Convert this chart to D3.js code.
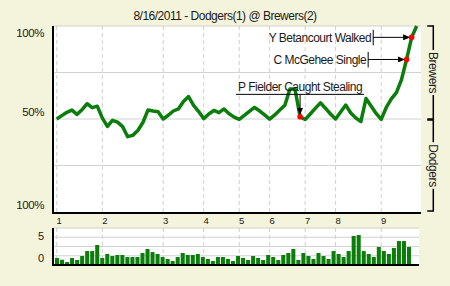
<!DOCTYPE html>
<html>
<head>
<meta charset="utf-8">
<script src="https://cdn.jsdelivr.net/npm/d3@7"></script>
<style>
  body { margin: 0; background: #f4f3dc; }
  svg { display: block; }
  text { font-family: "Liberation Sans", Arial, sans-serif; fill: #1a1a1a; }
</style>
</head>
<body>
<script>
// win probability for the home team (Brewers), one value per play
var winPct = [50, 51.8, 53.6, 54.8, 52.5, 55, 58.2, 56.1, 56.9, 50.5,
  46, 49.3, 48.3, 45.9, 40.5, 41.2, 43.8, 48.1, 54.8, 54.3,
  53.9, 50, 52, 54.3, 55.4, 59.4, 62.1, 57.3, 54, 50.2,
  52.7, 54.6, 53.4, 55.4, 52.8, 51, 49.8, 51.9, 54.1, 56.2,
  54.4, 52.2, 49.9, 52.2, 54.8, 57.4, 66.1, 66.1, 51.2, 49.7,
  52.7, 55.7, 58.7, 55.8, 52.7, 50, 53.8, 57.5, 53.2, 50.5,
  48.7, 61, 57, 53, 49.8, 56.2, 60.8, 64.2, 71.2, 82, 93.9, 100];

// leverage of each play (bottom bars)
var leverage = [0.76, 0.57, 0.32, 0.76, 0.54, 0.97, 1.51, 1.51, 2.16, 0.76,
  1.19, 0.97, 1.08, 1.08, 0.86, 0.86, 0.86, 1.3, 1.73, 1.4,
  1.19, 0.86, 0.65, 0.43, 0.86, 1.3, 1.08, 1.08, 1.19, 0.86,
  0.65, 0.43, 0.86, 0.86, 0.65, 0.43, 0.97, 0.76, 0.54, 0.97,
  0.76, 0.54, 1.08, 0.86, 0.54, 1.08, 1.3, 1.73, 0.54, 1.3,
  0.97, 0.65, 1.3, 0.97, 0.65, 1.51, 1.19, 0.86, 1.51, 3.14,
  3.24, 1.51, 1.19, 0.86, 1.95, 1.51, 1.19, 1.84, 2.59, 2.59, 1.95];

// play index where each inning starts
var inningStart = [0, 9, 21, 29, 36, 42, 49, 55, 64];
var inningLabels = ["1", "2", "3", "4", "5", "6", "7", "8", "9"];

var yTickValues = [100, 50, 0];
var yTickLabels = ["100%", "50%", "100%"];
var levTickValues = [3.14, 0.76];
var levTickLabels = ["5", "0"];

var notePlays = [48, 69, 70];
var noteTexts = ["P Fielder Caught Stealing", "C McGehee Single", "Y Betancourt Walked"];

var teams = ["Brewers", "Dodgers"];
var title = "8/16/2011 - Dodgers(1) @ Brewers(2)";

var width = 450, height = 286;

var svg = d3.select("body").append("svg")
    .attr("width", width)
    .attr("height", height);

svg.append("defs").append("marker")
    .attr("id", "arrow")
    .attr("markerUnits", "userSpaceOnUse")
    .attr("markerWidth", 7).attr("markerHeight", 6)
    .attr("refX", 6).attr("refY", 3)
    .attr("orient", "auto")
  .append("path")
    .attr("d", "M0,0L7,3L0,6Z")
    .attr("fill", "#000");

// scales
var x = d3.scaleLinear().domain([0, winPct.length - 1]).range([56.7, 416.7]);
var y = d3.scaleLinear().domain([0, 100]).range([212, 26]);
var xb = d3.scaleBand().domain(d3.range(leverage.length)).range([55, 411]).paddingInner(0.2);
var yb = d3.scaleLinear().domain([0, 4]).range([265, 228]);

// title
svg.append("text")
    .attr("x", 225).attr("y", 20)
    .attr("text-anchor", "middle")
    .style("font-size", "12px")
    .style("letter-spacing", "-0.5px")
    .text(title);

// main plot background
svg.append("rect")
    .attr("x", 53).attr("y", y(100))
    .attr("width", 368).attr("height", y(0) - y(100))
    .attr("fill", "#fff");

// horizontal gridlines
svg.selectAll(".hgrid").data([100, 75, 50, 25]).enter().append("line")
    .attr("x1", 53).attr("x2", 421)
    .attr("y1", function(d) { return y(d); })
    .attr("y2", function(d) { return y(d); })
    .attr("stroke", "#d2d2d2").attr("stroke-width", 1.2);

// inning gridlines
svg.selectAll(".vgrid").data(inningStart).enter().append("line")
    .attr("x1", function(d) { return x(d); })
    .attr("x2", function(d) { return x(d); })
    .attr("y1", y(100)).attr("y2", y(0))
    .attr("stroke", "#cfcfcf").attr("stroke-dasharray", "4,3");

// axes lines
svg.append("line").attr("x1", 53).attr("x2", 53).attr("y1", y(100)).attr("y2", 214)
    .attr("stroke", "#000").attr("stroke-width", 2);
svg.append("line").attr("x1", 52).attr("x2", 421).attr("y1", 213).attr("y2", 213)
    .attr("stroke", "#000").attr("stroke-width", 2);

// y labels
svg.selectAll(".ylab").data(yTickValues).enter().append("text")
    .attr("x", 44)
    .attr("y", function(d, i) { return y(d) + (i == 0 ? 11 : -3); })
    .attr("text-anchor", "end")
    .style("font-size", "11.5px")
    .style("letter-spacing", "-0.4px")
    .text(function(d, i) { return yTickLabels[i]; });

// inning labels
svg.selectAll(".xlab").data(inningStart).enter().append("text")
    .attr("x", function(d) { return x(d) + 2.5; })
    .attr("y", 223.5)
    .attr("text-anchor", "middle")
    .style("font-size", "9.5px")
    .text(function(d, i) { return inningLabels[i]; });

// win probability line
var valueline = d3.line()
    .x(function(d, i) { return x(i); })
    .y(function(d) { return y(d); });

svg.append("path")
    .datum(winPct)
    .attr("d", valueline)
    .attr("fill", "none")
    .attr("stroke", "#0a7d0a")
    .attr("stroke-width", 3.5)
    .attr("stroke-linejoin", "round");

// annotations
notePlays.forEach(function(p, i) {
  var px = x(p), py = y(winPct[p]);
  if (p < 60) {
    // label above, centred, with underline and arrow down
    var lineY = py - 22.4;
    var t = svg.append("text")
        .attr("x", px).attr("y", lineY - 3)
        .attr("text-anchor", "middle")
        .style("font-size", "12px")
        .style("letter-spacing", "-0.5px")
        .text(noteTexts[i]);
    var w = t.node().getComputedTextLength();
    svg.append("line")
        .attr("x1", px - w / 2 - 2).attr("x2", px + w / 2 + 2)
        .attr("y1", lineY).attr("y2", lineY)
        .attr("stroke", "#000");
    svg.append("line")
        .attr("x1", px).attr("x2", px)
        .attr("y1", lineY).attr("y2", py - 3)
        .attr("stroke", "#000")
        .attr("marker-end", "url(#arrow)");
  } else {
    // label to the left with bar and arrow right
    var tickX = px - 38.4;
    svg.append("text")
        .attr("x", tickX - 2).attr("y", py + 4.3)
        .attr("text-anchor", "end")
        .style("font-size", "12px")
        .style("letter-spacing", "-0.5px")
        .text(noteTexts[i]);
    svg.append("line")
        .attr("x1", tickX).attr("x2", tickX)
        .attr("y1", py - 7.5).attr("y2", py + 8)
        .attr("stroke", "#000");
    svg.append("line")
        .attr("x1", tickX).attr("x2", px - 2.5)
        .attr("y1", py).attr("y2", py)
        .attr("stroke", "#000")
        .attr("marker-end", "url(#arrow)");
  }
});

svg.selectAll(".dot").data(notePlays).enter().append("circle")
    .attr("cx", function(d) { return x(d); })
    .attr("cy", function(d) { return y(winPct[d]); })
    .attr("r", 2.8)
    .attr("fill", "#ff0000");

// team brackets on the right
var bx = 433.3;
[[100, 50], [50, 0]].forEach(function(r, i) {
  var y0 = y(r[0]) + (i == 1 ? 1 : 0), y1 = y(r[1]) - (i == 1 ? 1 : 0);
  var mid = (y0 + y1) / 2;
  var t = svg.append("text")
      .attr("transform", "translate(" + (bx - 4.3) + "," + mid + ") rotate(90)")
      .attr("text-anchor", "middle")
      .style("font-size", "12px")
      .style("letter-spacing", "-0.4px")
      .text(teams[i]);
  var half = t.node().getComputedTextLength() / 2 + 2;
  svg.append("path")
      .attr("d", "M" + (bx - 6) + "," + y0 + "H" + bx + "V" + (mid - half))
      .attr("fill", "none").attr("stroke", "#000").attr("stroke-width", 1.5);
  svg.append("path")
      .attr("d", "M" + bx + "," + (mid + half) + "V" + y1 + "H" + (bx - 6))
      .attr("fill", "none").attr("stroke", "#000").attr("stroke-width", 1.5);
});

// leverage chart
svg.append("rect")
    .attr("x", 53).attr("y", yb(4))
    .attr("width", 366).attr("height", yb(0) - yb(4))
    .attr("fill", "#fff");

svg.selectAll(".lgrid").data([1, 2, 3, 4]).enter().append("line")
    .attr("x1", 53).attr("x2", 419)
    .attr("y1", function(d) { return yb(d); })
    .attr("y2", function(d) { return yb(d); })
    .attr("stroke", "#d2d2d2").attr("stroke-width", 1.2);

svg.selectAll(".lvgrid").data(inningStart).enter().append("line")
    .attr("x1", function(d) { return x(d); })
    .attr("x2", function(d) { return x(d); })
    .attr("y1", yb(4)).attr("y2", yb(0))
    .attr("stroke", "#cfcfcf").attr("stroke-dasharray", "4,3");

svg.selectAll(".bar").data(leverage).enter().append("rect")
    .attr("x", function(d, i) { return xb(i); })
    .attr("y", function(d) { return yb(d); })
    .attr("width", xb.bandwidth())
    .attr("height", function(d) { return yb(0) - yb(d); })
    .attr("fill", "#0a7d0a");

svg.append("line").attr("x1", 53).attr("x2", 53).attr("y1", yb(4)).attr("y2", 266)
    .attr("stroke", "#000").attr("stroke-width", 2);
svg.append("line").attr("x1", 52).attr("x2", 419).attr("y1", 265).attr("y2", 265)
    .attr("stroke", "#000").attr("stroke-width", 2);

svg.selectAll(".levlab").data(levTickValues).enter().append("text")
    .attr("x", 44)
    .attr("y", function(d) { return yb(d) + 4; })
    .attr("text-anchor", "end")
    .style("font-size", "11px")
    .text(function(d, i) { return levTickLabels[i]; });
</script>
</body>
</html>
